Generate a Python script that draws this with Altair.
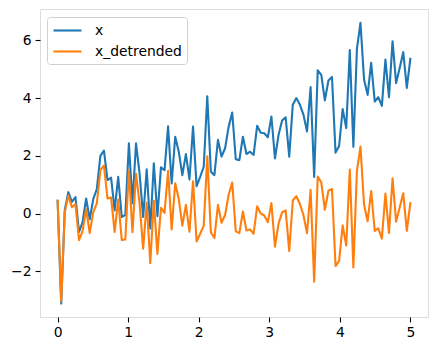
import altair as alt
import numpy as np
import pandas as pd

x_vals = [0.44, -3.12, 0.12, 0.74, 0.40, 0.57, -0.64, -0.30, 0.52, -0.20,
          0.50, 0.85, 2.00, 2.18, 1.16, 1.24, 0.11, 1.27, -0.12, -0.05,
          2.43, 0.35, 2.43, 1.39, -0.12, 1.53, -0.52, 1.74, -0.09, 1.60,
          1.50, 3.02, 1.04, 2.66, 2.14, 1.33, 2.06, 1.18, 3.01, 0.95,
          1.27, 1.62, 4.06, 1.45, 1.33, 2.55, 1.97, 2.26, 3.01, 3.50,
          1.88, 1.85, 2.66, 2.06, 2.14, 2.03, 3.04, 2.80, 2.78, 2.64,
          3.36, 1.91, 2.72, 3.22, 3.33, 1.97, 3.77, 4.00, 3.77, 3.42,
          2.84, 4.38, 1.27, 4.96, 4.80, 3.92, 4.61, 4.73, 2.11, 2.34,
          3.62, 2.96, 5.66, 2.31, 5.70, 6.61, 4.64, 4.11, 5.22, 3.88,
          4.03, 3.73, 5.33, 4.03, 5.97, 4.52, 5.04, 5.59, 4.35, 5.36]

x_detrended = [0.44, -3.05, 0.04, 0.62, 0.22, 0.33, -0.92, -0.60, 0.15, -0.68,
               0.05, 0.35, 1.50, 1.66, 0.52, 0.55, -0.64, 0.48, -0.92, -0.90,
               1.50, -0.65, 1.38, 0.35, -1.22, 0.38, -1.72, 0.44, -1.40, 0.20,
               0.02, 1.48, -0.55, 1.05, 0.50, -0.42, 0.30, -0.63, 1.12, -0.97,
               -0.70, -0.43, 1.98, -0.65, -0.85, 0.30, -0.32, -0.05, 0.65, 1.07,
               -0.62, -0.68, 0.07, -0.59, -0.55, -0.70, 0.25, 0.00, -0.07, -0.30,
               0.36, -1.15, -0.35, 0.04, 0.11, -1.30, 0.45, 0.60, 0.33, -0.06,
               -0.68, 0.82, -2.36, 1.28, 1.08, 0.13, 0.79, 0.85, -1.82, -1.64,
               -0.41, -1.11, 1.52, -1.87, 1.48, 2.32, 0.31, -0.27, 0.78, -0.60,
               -0.51, -0.87, 0.69, -0.67, 1.22, -0.28, 0.21, 0.70, -0.60, 0.36]

series_names = ["x", "x_detrended"]
series_colors = ["#1f77b4", "#ff7f0e"]
x_ticks = [0, 1, 2, 3, 4, 5]
y_ticks = [-2, 0, 2, 4, 6]

t = np.linspace(0, 5, len(x_vals))

df = pd.concat([
    pd.DataFrame({"t": t, "value": x_vals, "series": series_names[0], "ord": 0}),
    pd.DataFrame({"t": t, "value": x_detrended, "series": series_names[1], "ord": 1}),
])

FONT = "DejaVu Sans"
FS = 13.9

chart = alt.Chart(df).mark_line(strokeWidth=2.1, strokeJoin="round", strokeCap="square").encode(
    x=alt.X("t:Q", scale=alt.Scale(domain=[-0.25, 5.25], nice=False, zero=False),
            axis=alt.Axis(values=x_ticks, title=None, grid=False, format="d",
                          domain=False, tickColor="black", tickSize=4.9, tickWidth=1.1,
                          labelFont=FONT, labelFontSize=FS, labelColor="black",
                          labelPadding=4, labelFlush=False)),
    y=alt.Y("value:Q", scale=alt.Scale(domain=[-3.585, 7.085], nice=False, zero=False),
            axis=alt.Axis(values=y_ticks, title=None, grid=False, format="d",
                          domain=False, tickColor="black", tickSize=4.9, tickWidth=1.1,
                          labelFont=FONT, labelFontSize=FS, labelColor="black",
                          labelPadding=4, labelFlush=False)),
    color=alt.Color("series:N",
                    scale=alt.Scale(domain=series_names, range=series_colors),
                    legend=alt.Legend(title=None, orient="none", legendX=7, legendY=8,
                                      symbolType="M-1,0L3,0", symbolSize=196,
                                      symbolStrokeWidth=2.1,
                                      labelFont=FONT, labelFontSize=FS, labelColor="black",
                                      padding=5, strokeColor="#d0d0d0",
                                      fillColor="rgba(255,255,255,0.8)",
                                      cornerRadius=3, rowPadding=5, labelOffset=26)),
    order=alt.Order("ord:Q"),
).properties(
    width=388, height=308,
    autosize=alt.AutoSizeParams(type="none"),
    padding={"left": 40, "top": 9, "right": 9, "bottom": 34},
).configure_view(
    stroke="black", strokeWidth=1.1
).configure(background="white")

chart.save("out.html", embed_options={"renderer": "svg", "actions": False})
